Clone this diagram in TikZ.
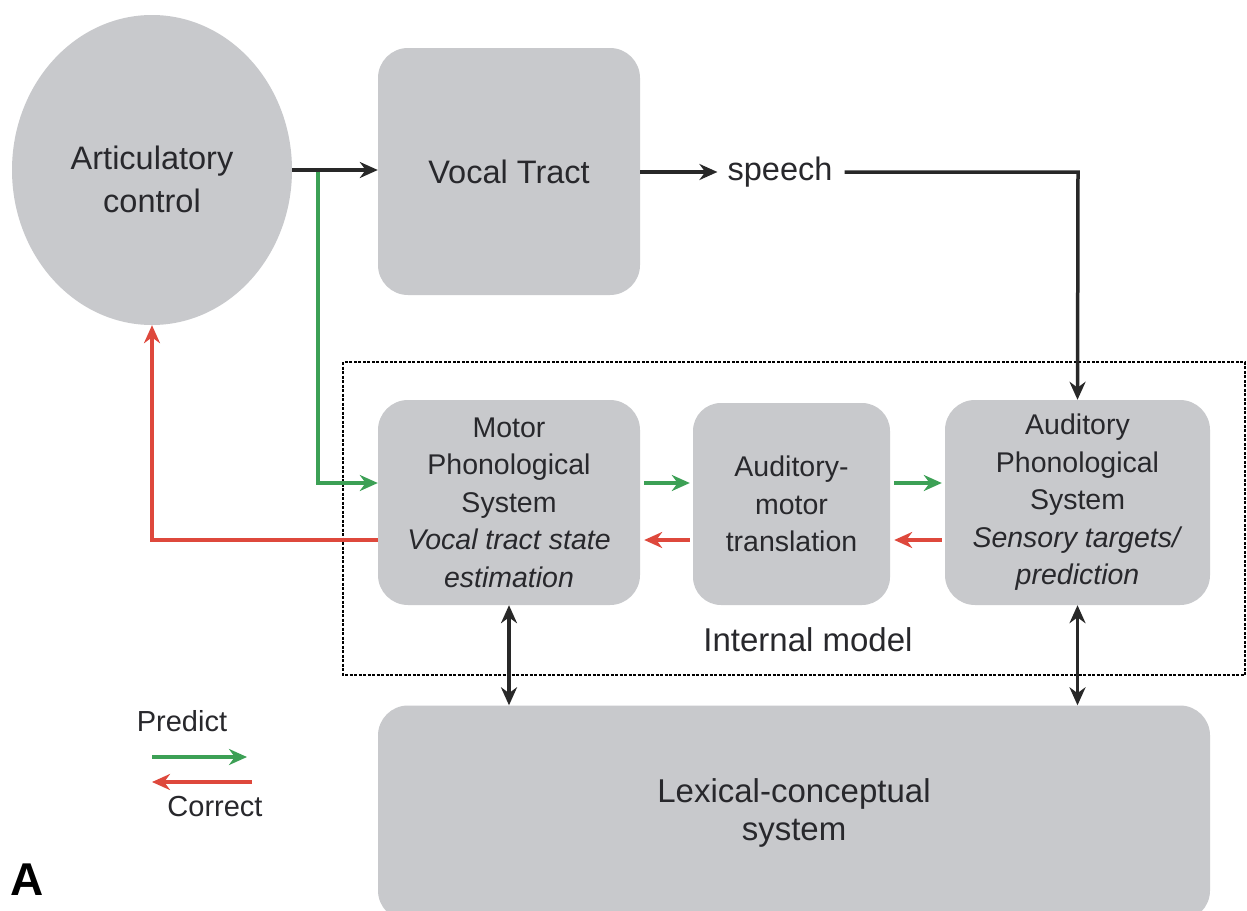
\documentclass[tikz,border=0pt]{standalone}
\usepackage{fontspec}
\setmainfont{Liberation Sans}
\usetikzlibrary{shapes.geometric,arrows.meta}
\definecolor{boxgray}{RGB}{200,201,204}
\definecolor{txt}{RGB}{40,40,44}
\definecolor{lin}{RGB}{40,40,40}
\definecolor{pgreen}{RGB}{60,160,85}
\definecolor{cred}{RGB}{222,72,60}
\tikzset{
  box/.style={fill=boxgray, draw=none, rounded corners=30pt, inner sep=0pt, align=center, text=txt},
  bigtxt/.style={font=\fontsize{32.5}{43}\selectfont},
  smalltxt/.style={font=\fontsize{28.5}{37.5}\selectfont},
  arr/.style={draw=lin, line width=3.5pt, line join=miter, -{Stealth[length=18pt,width=16pt]}},
  darr/.style={draw=lin, line width=3.5pt, {Stealth[length=18pt,width=16pt]}-{Stealth[length=18pt,width=16pt]}},
  garr/.style={draw=pgreen, line width=3.5pt, line join=miter, -{Stealth[length=18pt,width=16pt]}},
  rarr/.style={draw=cred, line width=3.5pt, line join=miter, -{Stealth[length=18pt,width=16pt]}},
}
\begin{document}
\begin{tikzpicture}[x=1pt,y=-1pt]
\useasboundingbox[fill=white] (0,0) rectangle (1247,910);
% internal model frame
\draw[black, line width=1.5pt, dash pattern=on 3pt off 1.5pt] (343,362) rectangle (1245,675);
\node[text=txt, font=\fontsize{33}{38}\selectfont] (intm) at (808,640) {Internal model};
% nodes
\node[ellipse, fill=boxgray, draw=none, minimum width=280pt, minimum height=310pt, inner sep=0pt] (artic) at (152,170) {};
\node[align=center, text=txt, bigtxt, inner sep=0pt] (artict) at (152,179) {Articulatory\\control};
\node[box, bigtxt, minimum width=262pt, minimum height=247pt] (vocal) at (509,171.5) {Vocal Tract};
\node[text=txt, bigtxt, inner sep=0pt] (speech) at (780,172) {speech};
\node[box, smalltxt, minimum width=262pt, minimum height=205pt] (motor) at (509,502.5) {Motor\\Phonological\\System\\\textit{Vocal tract state}\\\textit{estimation}};
\node[box, smalltxt, minimum width=197pt, minimum height=202pt, rounded corners=28pt] (am) at (791.5,504) {Auditory-\\motor\\translation};
\node[box, smalltxt, minimum width=265pt, minimum height=205pt] (aud) at (1077.5,502.5) {Auditory\\Phonological\\System\\\textit{Sensory targets/}\\\textit{prediction}};
\node[box, minimum width=832pt, minimum height=215pt, font=\fontsize{33}{38}\selectfont] (lex) at (794,813) {Lexical-conceptual\\system};
% top connectors
\draw[arr] (artic.east) -- (vocal.west |- artic.east);
\coordinate (gsplit) at (318,172);
\draw[garr] (gsplit) -- (318,483) -- (motor.west |- 0,483);
\draw[arr, shorten >=10pt] (vocal.east |- speech.west) -- (speech.west);
\coordinate (sp1) at (1078,172);
\draw[arr, shorten <=12pt] (speech.east) -- (sp1) -- (aud.north);
% internal arrows
\draw[garr, shorten <=4pt, shorten >=3pt] (motor.east |- 0,483) -- (am.west |- 0,483);
\draw[garr, shorten <=4pt, shorten >=3pt] (am.east |- 0,483) -- (aud.west |- 0,483);
\draw[rarr, shorten <=3pt, shorten >=4pt] (aud.west |- 0,540) -- (am.east |- 0,540);
\draw[rarr, shorten <=3pt, shorten >=4pt] (am.west |- 0,540) -- (motor.east |- 0,540);
% red feedback
\coordinate (rc) at (152,540);
\draw[rarr] (motor.west |- rc) -- (rc) -- (artic.south);
% double arrows
\draw[darr] (motor.south) -- (motor.south |- lex.north);
\draw[darr] (aud.south) -- (aud.south |- lex.north);
% legend
\node[text=txt, font=\fontsize{29}{34}\selectfont, anchor=center] (pred) at (182,721) {Predict};
\coordinate (g1) at (152,757);
\coordinate (g2) at (247,757);
\draw[garr] (g1) -- (g2);
\coordinate (r1) at (252,782);
\coordinate (r2) at (152,782);
\draw[rarr] (r1) -- (r2);
\node[text=txt, font=\fontsize{29}{34}\selectfont, anchor=center] (corr) at (215,807) {Correct};
\node[text=black, font=\fontsize{46}{50}\selectfont\bfseries, anchor=west, inner sep=0pt] (lbl) at (10,880) {A};
\end{tikzpicture}
\end{document}
